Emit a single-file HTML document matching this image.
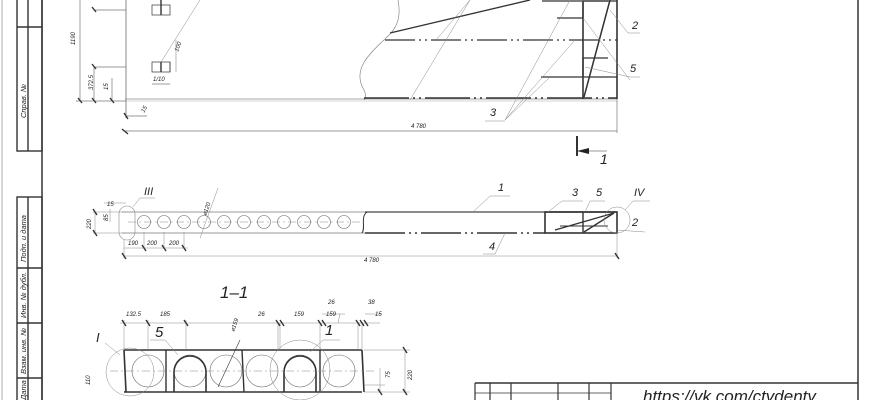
<!DOCTYPE html>
<html><head><meta charset="utf-8"><style>
html,body{margin:0;padding:0;background:#fff;width:870px;height:400px;overflow:hidden}
svg{display:block}
text{font-family:"Liberation Sans",sans-serif;font-style:italic;fill:#222}
</style></head><body>
<svg width="870" height="400" viewBox="0 0 870 400" xmlns="http://www.w3.org/2000/svg">
<g stroke="#333" fill="none">
<!-- left strip -->
<line x1="2" y1="0" x2="2" y2="400" stroke-width="0.7" stroke="#888"/>
<line x1="42" y1="0" x2="42" y2="400" stroke-width="1.5"/>
<rect x="17" y="-2" width="25" height="153" stroke-width="1.4"/>
<line x1="28" y1="0" x2="28" y2="151" stroke-width="1.4"/>
<line x1="17" y1="27" x2="42" y2="27" stroke-width="1.4"/>
<rect x="17" y="197" width="25" height="210" stroke-width="1.4"/>
<line x1="28" y1="197" x2="28" y2="400" stroke-width="1.4"/>
<line x1="17" y1="268" x2="42" y2="268" stroke-width="1.4"/>
<line x1="17" y1="323" x2="42" y2="323" stroke-width="1.4"/>
<line x1="17" y1="378" x2="42" y2="378" stroke-width="1.4"/>
<!-- right border -->
<line x1="858" y1="0" x2="858" y2="400" stroke-width="1.5"/>
<!-- title block -->
<line x1="475" y1="383" x2="858" y2="383" stroke-width="1.4"/>
<line x1="475" y1="393" x2="611" y2="393" stroke-width="0.8"/>
<g stroke-width="1.2"><line x1="475" y1="383" x2="475" y2="400"/><line x1="490" y1="383" x2="490" y2="400"/><line x1="511" y1="383" x2="511" y2="400"/><line x1="558" y1="383" x2="558" y2="400"/><line x1="589" y1="383" x2="589" y2="400"/><line x1="611" y1="383" x2="611" y2="400"/></g>

<!-- TOP VIEW -->
<line x1="126" y1="0" x2="126" y2="118" stroke-width="1" stroke="#888"/>
<line x1="125" y1="99" x2="617" y2="99" stroke-width="0.8" stroke="#888"/>
<line x1="125" y1="101" x2="617" y2="101" stroke-width="0.6" stroke="#aaa"/>
<line x1="124" y1="131" x2="617" y2="131" stroke-width="0.7" stroke="#777"/>
<line x1="617" y1="99" x2="617" y2="133" stroke-width="0.7" stroke="#777"/>
<!-- left dims -->
<g stroke="#777" stroke-width="0.7">
<line x1="80" y1="0" x2="80" y2="101"/><line x1="94" y1="10" x2="126" y2="10"/>
<line x1="94" y1="67" x2="126" y2="67"/><line x1="94" y1="67" x2="94" y2="101"/>
<line x1="112" y1="78" x2="112" y2="101"/><line x1="76" y1="101" x2="126" y2="101"/>
<line x1="126" y1="116" x2="147" y2="116"/>
<line x1="152" y1="84" x2="170" y2="84"/>
</g>
<g stroke-width="1.4"><line x1="78" y1="98" x2="82" y2="103"/><line x1="92" y1="98" x2="96" y2="103"/><line x1="110" y1="98" x2="114" y2="103"/><line x1="92" y1="64" x2="96" y2="69"/><line x1="92" y1="7" x2="96" y2="12"/><line x1="124" y1="113" x2="128" y2="119"/><line x1="122" y1="129" x2="128" y2="134"/></g>
<rect x="152" y="5" width="18" height="10" stroke-width="0.7"/><line x1="161" y1="0" x2="161" y2="15" stroke-width="1.4"/>
<rect x="152" y="62" width="18" height="10" stroke-width="0.7"/><line x1="161" y1="62" x2="161" y2="72" stroke-width="1.4"/><line x1="170" y1="62" x2="170" y2="72" stroke-width="0.7"/>
<line x1="161" y1="62" x2="200" y2="0" stroke-width="0.5" stroke="#888"/>
<line x1="176" y1="40" x2="176" y2="72" stroke-width="0.6" stroke="#888"/>
<!-- break cloud -->
<path d="M398 0 C402 20 395 30 386 38 C368 55 352 70 364 90 C366 94 366 98 364 100" stroke-width="0.6" stroke="#777"/>
<line x1="390" y1="33" x2="530" y2="0" stroke-width="1.4"/>
<line x1="385" y1="40" x2="617" y2="40" stroke-width="1.3" stroke-dasharray="30 4 2 4 2 4"/>
<line x1="364" y1="98" x2="617" y2="98" stroke-width="1.6" stroke-dasharray="45 4 2 4 2 4"/>
<line x1="541" y1="77" x2="617" y2="77" stroke-width="1.3"/>
<line x1="542" y1="1" x2="617" y2="1" stroke-width="1.3"/>
<line x1="617" y1="0" x2="617" y2="99" stroke-width="1.6"/>
<line x1="583" y1="2" x2="583" y2="99" stroke-width="1.6"/>
<polyline points="557,18 583,18 583,1 608,1" stroke-width="1.3"/>
<polyline points="583,77 583,58 608,58" stroke-width="1.3"/>
<line x1="584" y1="97" x2="610" y2="0" stroke-width="1.5"/>
<g stroke="#888" stroke-width="0.5">
<line x1="410" y1="100" x2="470" y2="0"/><line x1="436" y1="40" x2="470" y2="0"/>
<line x1="505" y1="120" x2="570" y2="0"/><line x1="505" y1="120" x2="575" y2="40"/><line x1="505" y1="120" x2="550" y2="77"/>
<line x1="485" y1="121" x2="505" y2="121"/>
<line x1="583" y1="18" x2="630" y2="80"/><line x1="585" y1="67" x2="630" y2="77"/><line x1="630" y1="77" x2="640" y2="77"/>
<line x1="610" y1="10" x2="628" y2="33"/><line x1="628" y1="33" x2="640" y2="33"/>
</g>
<!-- section mark -->
<line x1="577" y1="136" x2="577" y2="156" stroke-width="2"/>
<line x1="577" y1="151" x2="607" y2="151" stroke-width="0.6"/>
<polygon points="577,151 589,148 589,154" fill="#222" stroke="none"/>

<!-- SIDE VIEW -->
<line x1="122" y1="212" x2="365" y2="212" stroke-width="0.8" stroke="#777"/>
<line x1="122" y1="233" x2="365" y2="233" stroke-width="0.8" stroke="#777"/>
<line x1="365" y1="212" x2="617" y2="212" stroke-width="1.6" stroke="#666"/>
<line x1="365" y1="233" x2="545" y2="233" stroke-width="1.6" stroke-dasharray="40 4 2 4 2 4"/>
<path d="M367 212 C360 217 366 228 362 233" stroke-width="1"/>
<line x1="128" y1="222" x2="360" y2="222" stroke-width="0.5" stroke="#888" stroke-dasharray="8 3 2 3"/>
<g stroke-width="0.6" stroke="#666">
<circle cx="144" cy="222" r="6.5"/><circle cx="164" cy="222" r="6.5"/><circle cx="184" cy="222" r="6.5"/><circle cx="204" cy="222" r="6.5"/><circle cx="224" cy="222" r="6.5"/><circle cx="244" cy="222" r="6.5"/><circle cx="264" cy="222" r="6.5"/><circle cx="284" cy="222" r="6.5"/><circle cx="304" cy="222" r="6.5"/><circle cx="324" cy="222" r="6.5"/><circle cx="344" cy="222" r="6.5"/>
</g>
<rect x="119" y="206" width="16" height="34" rx="8" stroke-width="0.6" stroke="#888"/>
<rect x="545" y="212" width="72" height="21" stroke-width="1.6"/>
<line x1="583" y1="212" x2="583" y2="233" stroke-width="1.4"/>
<line x1="555" y1="230" x2="614" y2="213" stroke-width="1.4"/><line x1="584" y1="232" x2="614" y2="213" stroke-width="1.4"/><line x1="560" y1="226" x2="608" y2="226" stroke-width="1"/>
<circle cx="617" cy="220" r="13" stroke-width="0.5" stroke="#888"/>
<g stroke="#888" stroke-width="0.5">
<line x1="124" y1="256" x2="617" y2="256"/><line x1="617" y1="233" x2="617" y2="258"/><line x1="124" y1="240" x2="124" y2="258"/>
<line x1="124" y1="248" x2="188" y2="248"/><line x1="144" y1="232" x2="144" y2="248"/><line x1="164" y1="232" x2="164" y2="248"/><line x1="184" y1="232" x2="184" y2="248"/>
<line x1="93" y1="212" x2="126" y2="212"/><line x1="93" y1="233" x2="126" y2="233"/><line x1="95" y1="212" x2="95" y2="233"/>
<line x1="110" y1="209" x2="110" y2="222"/><line x1="104" y1="203" x2="126" y2="203"/>
<line x1="200" y1="238" x2="218" y2="188"/>
<line x1="133" y1="207" x2="140" y2="198"/><line x1="140" y1="198" x2="155" y2="198"/>
<line x1="473" y1="212" x2="490" y2="196"/><line x1="490" y1="196" x2="510" y2="196"/>
<line x1="505" y1="233" x2="495" y2="254"/><line x1="483" y1="254" x2="495" y2="254"/>
<line x1="548" y1="212" x2="562" y2="201"/><line x1="562" y1="201" x2="583" y2="201"/>
<line x1="585" y1="212" x2="590" y2="201"/><line x1="590" y1="201" x2="605" y2="201"/>
<line x1="625" y1="210" x2="633" y2="201"/><line x1="633" y1="201" x2="650" y2="201"/>
<line x1="617" y1="230" x2="645" y2="232"/>
</g>
<g stroke-width="1.4"><line x1="122" y1="253" x2="126" y2="259"/><line x1="142" y1="245" x2="146" y2="251"/><line x1="162" y1="245" x2="166" y2="251"/><line x1="182" y1="245" x2="186" y2="251"/><line x1="93" y1="209" x2="97" y2="215"/><line x1="93" y1="230" x2="97" y2="236"/><line x1="615" y1="253" x2="619" y2="259"/></g>

<!-- SECTION 1-1 -->
<line x1="124" y1="350" x2="362" y2="350" stroke-width="1.6"/>
<line x1="124" y1="392" x2="362" y2="392" stroke-width="1.6"/>
<line x1="124" y1="350" x2="126" y2="392" stroke-width="1.6"/>
<line x1="362" y1="350" x2="364" y2="392" stroke-width="1.6"/>
<line x1="166" y1="350" x2="166" y2="392" stroke-width="1.4"/>
<line x1="242" y1="350" x2="244" y2="392" stroke-width="1.4"/>
<line x1="320" y1="350" x2="320" y2="392" stroke-width="1.4"/>
<line x1="110" y1="371" x2="375" y2="371" stroke-width="0.5" stroke="#888" stroke-dasharray="8 3 2 3"/>
<g stroke-width="0.6" stroke="#666">
<circle cx="148" cy="371" r="16"/><circle cx="190" cy="371" r="16"/><circle cx="226" cy="371" r="16"/><circle cx="262" cy="371" r="16"/><circle cx="300" cy="371" r="16"/><circle cx="339" cy="371" r="16"/>
</g>
<path d="M174 392 V372 A16 16 0 0 1 206 372 V392" stroke-width="1.6"/>
<path d="M284 392 V372 A16 16 0 0 1 316 372 V392" stroke-width="1.6"/>
<circle cx="130" cy="372" r="24" stroke-width="0.5" stroke="#888"/>
<circle cx="300" cy="370" r="30" stroke-width="0.5" stroke="#888"/>
<line x1="218" y1="387" x2="240" y2="340" stroke-width="0.6"/>
<g stroke="#888" stroke-width="0.5">
<line x1="120" y1="323" x2="380" y2="323" /><line x1="124" y1="320" x2="124" y2="350"/><line x1="148" y1="320" x2="148" y2="350"/><line x1="186" y1="320" x2="186" y2="350"/>
<line x1="278" y1="323" x2="278" y2="350"/><line x1="280" y1="323" x2="280" y2="350"/><line x1="320" y1="323" x2="320" y2="350"/><line x1="358" y1="323" x2="358" y2="350"/><line x1="362" y1="323" x2="362" y2="350"/>
<line x1="364" y1="350" x2="410" y2="350"/><line x1="364" y1="392" x2="410" y2="392"/><line x1="405" y1="350" x2="405" y2="392"/>
<line x1="364" y1="385" x2="385" y2="385"/><line x1="380" y1="368" x2="380" y2="392"/>
<line x1="105" y1="343" x2="120" y2="355"/><line x1="150" y1="340" x2="165" y2="340"/><line x1="165" y1="340" x2="178" y2="355"/>
<line x1="323" y1="340" x2="340" y2="340"/><line x1="310" y1="352" x2="323" y2="340"/>
<line x1="322" y1="314" x2="345" y2="314"/><line x1="340" y1="314" x2="338" y2="323"/>
<line x1="365" y1="314" x2="382" y2="314"/>
</g>
<g stroke-width="1.4"><line x1="122" y1="320" x2="126" y2="326"/><line x1="146" y1="320" x2="150" y2="326"/><line x1="184" y1="320" x2="188" y2="326"/><line x1="276" y1="320" x2="280" y2="326"/><line x1="280" y1="320" x2="284" y2="326"/><line x1="318" y1="320" x2="322" y2="326"/><line x1="322" y1="320" x2="326" y2="326"/><line x1="356" y1="320" x2="360" y2="326"/><line x1="360" y1="320" x2="364" y2="326"/><line x1="364" y1="320" x2="368" y2="326"/><line x1="403" y1="347" x2="407" y2="353"/><line x1="403" y1="389" x2="407" y2="395"/><line x1="378" y1="389" x2="382" y2="395"/></g>
</g>

<!-- TEXT -->
<g font-size="6">
<text transform="translate(75,45) rotate(-90)">1190</text>
<text transform="translate(93,90) rotate(-90)">372.5</text>
<text transform="translate(108,90) rotate(-90)">15</text>
<text transform="translate(144,113) rotate(-60)">15</text>
<text x="153" y="81">1/10</text>
<text transform="translate(178,52) rotate(-70)">100</text>
<text x="411" y="128">4 780</text>
<text transform="translate(91,229) rotate(-90)">220</text>
<text transform="translate(108,221) rotate(-90)">85</text>
<text x="107" y="206">15</text>
<text x="128" y="245">190</text>
<text x="147" y="245">200</text>
<text x="169" y="245">200</text>
<text transform="translate(206,216) rotate(-70)">⌀120</text>
<text x="364" y="262">4 780</text>
<text x="126" y="316">132.5</text>
<text x="160" y="316">185</text>
<text x="258" y="316">26</text>
<text x="294" y="316">159</text>
<text x="328" y="304">26</text>
<text x="326" y="316">159</text>
<text x="368" y="304">38</text>
<text x="375" y="316">15</text>
<text transform="translate(234,332) rotate(-70)">⌀159</text>
<text transform="translate(412,380) rotate(-90)">220</text>
<text transform="translate(390,378) rotate(-90)">75</text>
<text transform="translate(90,385) rotate(-90)">110</text>
</g>
<g font-size="11">
<text x="632" y="29">2</text><text x="630" y="72">5</text><text x="490" y="116">3</text>
<text x="600" y="164" font-style="normal" font-size="14">1</text>
<text x="498" y="191">1</text><text x="572" y="196">3</text><text x="596" y="196">5</text><text x="634" y="196">IV</text>
<text x="632" y="226">2</text><text x="489" y="250">4</text>
<text x="144" y="195">III</text>
<text x="220" y="298" font-size="17">1–1</text>
<text x="155" y="337" font-size="15">5</text><text x="96" y="342" font-size="13">I</text>
<text x="325" y="335" font-size="15">1</text>
<text x="643" y="402" font-size="17" fill="#333">https://vk.com/ctydenty</text>
</g>
<g font-size="7.5">
<text transform="translate(26,118) rotate(-90)">Справ. №</text>
<text transform="translate(26,262) rotate(-90)">Подп. и дата</text>
<text transform="translate(26,318) rotate(-90)">Инв. № дубл.</text>
<text transform="translate(26,374) rotate(-90)">Взам. инв. №</text>
<text transform="translate(26,400) rotate(-90)">Дата</text>
</g>
</svg>
</body></html>
